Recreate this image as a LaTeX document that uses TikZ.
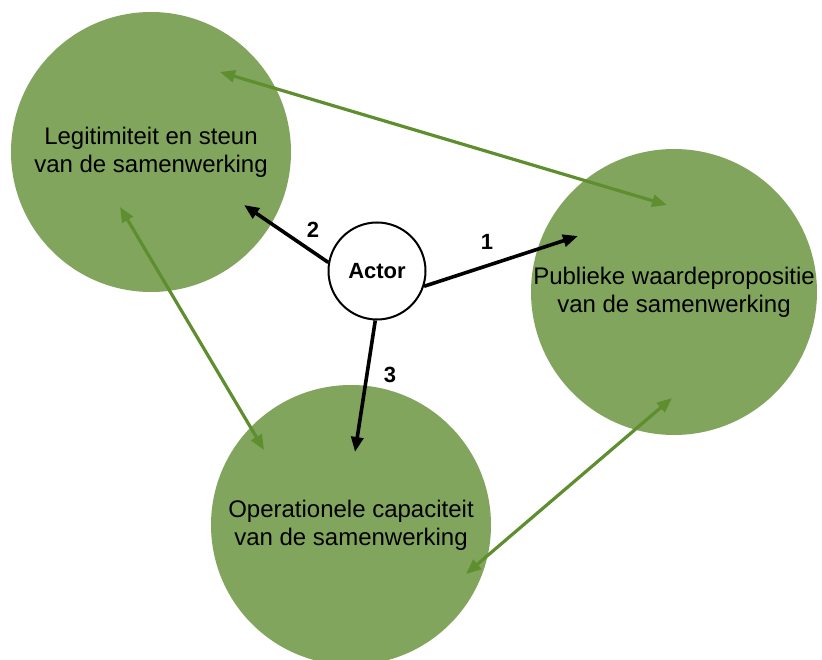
\documentclass[tikz,border=0pt]{standalone}
\usepackage{fontspec}
\setmainfont{Liberation Sans}
\usetikzlibrary{arrows.meta}
\definecolor{leafgreen}{RGB}{130,165,93}
\definecolor{arrowgreen}{RGB}{94,142,46}

\begin{document}
\begin{tikzpicture}[x=1pt,y=-1pt,thick,
                    big node/.style={circle,fill=leafgreen,minimum size=280pt,inner sep=0pt,
                                     align=center,font=\fontsize{24}{28}\selectfont},
                    actor node/.style={circle,draw,line width=2pt,fill=white,minimum size=97pt,
                                       inner sep=0pt,font=\fontsize{22}{26}\selectfont\bfseries},
                    green link/.style={draw=arrowgreen,line width=3.2pt,
                                       {Triangle[length=15pt,width=12pt]}-{Triangle[length=15pt,width=12pt]}},
                    black link/.style={draw=black,line width=3.6pt,-{Triangle[length=15pt,width=12pt]}},
                    step label/.style={font=\fontsize{22}{26}\selectfont\bfseries}]

  \useasboundingbox (0,0) rectangle (822,660);

  \node[big node] (legit) at (151,152) {Legitimiteit en steun\\van de samenwerking};
  \node[big node] (waarde) at (674,292) {Publieke waardepropositie\\van de samenwerking};
  \node[big node] (oper) at (351,525) {Operationele capaciteit\\van de samenwerking};

  % ends of the links inside the circles
  \coordinate (legit a) at (220,72);
  \coordinate (waarde a) at (667,205);
  \coordinate (legit b) at (120,207);
  \coordinate (oper a) at (264,450);
  \coordinate (waarde b) at (672,398);
  \coordinate (oper b) at (466,574);
  \coordinate (tip 1) at (578,236);
  \coordinate (tip 2) at (244,205);
  \coordinate (tip 3) at (355,452);

  \path[green link] (legit a) -- (waarde a);
  \path[green link] (legit b) -- (oper a);
  \path[green link] (waarde b) -- (oper b);

  \node[actor node] (actor) at (377,271) {Actor};

  \path[black link] (actor.-18) -- (tip 1);
  \path[black link] (actor.170) -- (tip 2);
  \path[black link] (actor.-92) -- (tip 3);

  \node[step label] (n1) at (487,242) {1};
  \node[step label] (n2) at (313,230) {2};
  \node[step label] (n3) at (390,375) {3};
\end{tikzpicture}
\end{document}
